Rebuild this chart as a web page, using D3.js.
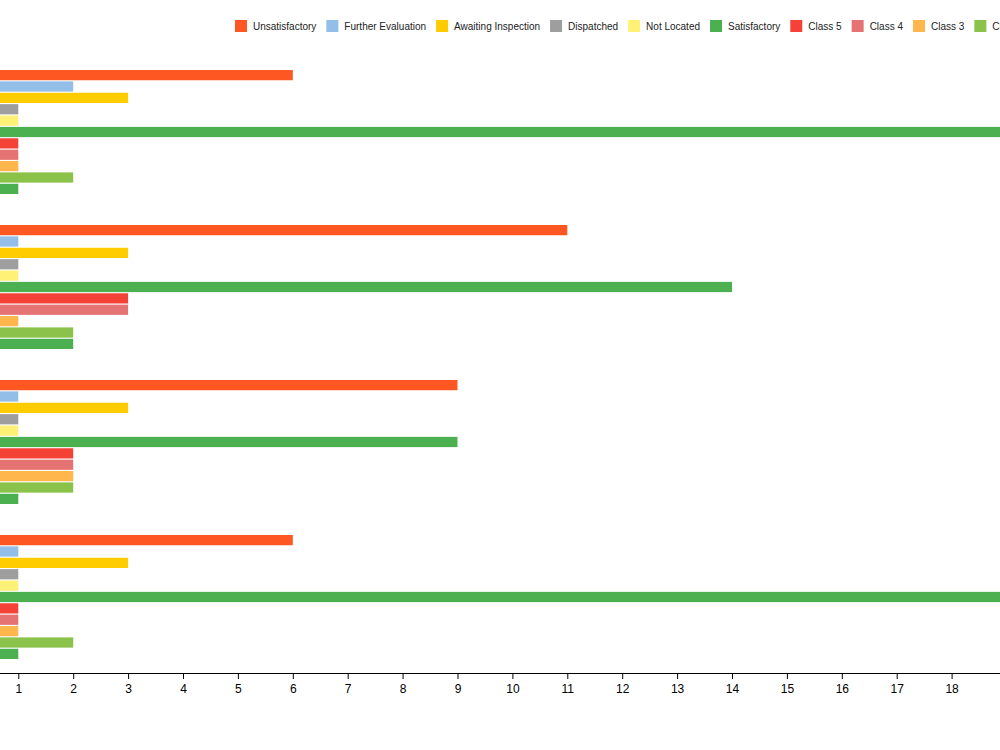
<!DOCTYPE html>
<html>
<head>
<meta charset="utf-8">
<script src="https://cdn.jsdelivr.net/npm/d3@7"></script>
<style>
  html, body { margin: 0; padding: 0; background: #fff; overflow: hidden; }
  svg { display: block; font-family: "Liberation Sans", Arial, sans-serif; }
</style>
</head>
<body>
<svg id="chart" width="1000" height="750"></svg>
<script>
// ---- data ----
const groups = ["Group A", "Group B", "Group C", "Group D"];
const seriesNames = ["Unsatisfactory", "Further Evaluation", "Awaiting Inspection", "Dispatched",
  "Not Located", "Satisfactory", "Class 5", "Class 4", "Class 3", "Class 2", "Class 1"];
const seriesColors = ["#FF5722", "#93BEE8", "#FFCC00", "#9E9E9E", "#FFF176", "#4CAF50",
  "#F44336", "#E57373", "#FFB74D", "#8BC34A", "#4CAF50"];
const valuesA = [6, 2, 3, 1, 1, 20, 1, 1, 1, 2, 1];
const valuesB = [11, 1, 3, 1, 1, 14, 3, 3, 1, 2, 2];
const valuesC = [9, 1, 3, 1, 1, 9, 2, 2, 2, 2, 1];
const valuesD = [6, 1, 3, 1, 1, 20, 1, 1, 1, 2, 1];
const groupValues = [valuesA, valuesB, valuesC, valuesD];
const xTicks = d3.range(1, 20);

// ---- chart ----
const svg = d3.select("#chart");
const x = d3.scaleLinear().domain([0, 20]).range([-36.6, 1061.4]);
const y0 = d3.scaleBand().domain(groups).range([54.5, 674.5]).paddingInner(0.2).paddingOuter(0.1);
const y1 = d3.scaleBand().domain(seriesNames).range([0, y0.bandwidth()]).paddingInner(0.1).paddingOuter(0);

const g = svg.append("g");
groups.forEach((grp, gi) => {
  const gg = g.append("g").attr("transform", `translate(0,${y0(grp)})`);
  gg.selectAll("rect")
    .data(seriesNames.map((s, i) => ({ s, v: groupValues[gi][i], i })))
    .join("rect")
    .attr("x", x(0))
    .attr("y", d => y1(d.s))
    .attr("height", y1.bandwidth())
    .attr("width", d => x(d.v) - x(0))
    .attr("fill", d => seriesColors[d.i]);
});

// x axis
const axisY = 673;
const xAxis = svg.append("g")
  .attr("transform", `translate(0,${axisY})`)
  .call(d3.axisBottom(x).tickValues(xTicks).tickFormat(d3.format("d")).tickSizeOuter(0).tickSize(6));
xAxis.select(".domain").attr("stroke", "#000");
xAxis.selectAll(".tick line").attr("stroke", "#000");
xAxis.selectAll(".tick text").attr("font-size", 12).attr("fill", "#000")
  .attr("font-family", "'Liberation Sans', Arial, sans-serif").attr("dy", "0.9em");

// legend
const legend = svg.append("g").attr("transform", "translate(235,20)");
let lx = 0;
seriesNames.forEach((s, i) => {
  const item = legend.append("g").attr("transform", `translate(${lx},0)`);
  item.append("rect").attr("x", 0).attr("y", 0).attr("width", 12).attr("height", 12)
    .attr("fill", seriesColors[i]);
  const t = item.append("text").attr("x", 18).attr("y", 10)
    .attr("font-size", 10).attr("fill", "#222").text(s);
  const w = t.node().getComputedTextLength();
  lx += 18 + w + 10;
});
</script>
</body>
</html>
